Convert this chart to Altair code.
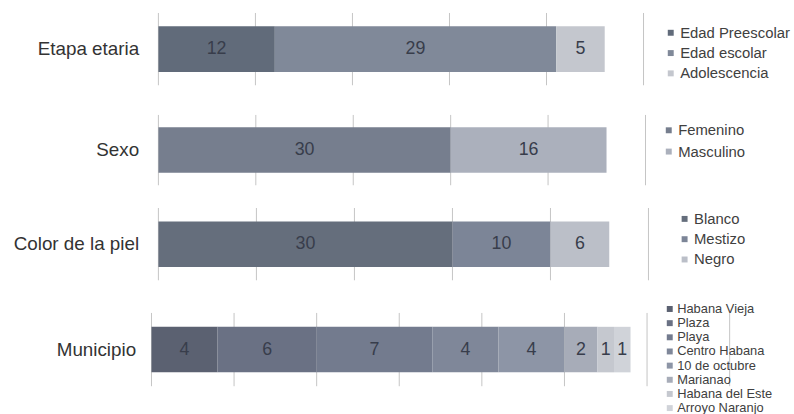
import altair as alt
import pandas as pd

# ---- data -------------------------------------------------------------
etapa_cats = ["Edad Preescolar", "Edad escolar", "Adolescencia"]
etapa_vals = [12, 29, 5]

sexo_cats = ["Femenino", "Masculino"]
sexo_vals = [30, 16]

piel_cats = ["Blanco", "Mestizo", "Negro"]
piel_vals = [30, 10, 6]

muni_cats = ["Habana Vieja", "Plaza", "Playa", "Centro Habana",
             "10 de octubre", "Marianao", "Habana del Este", "Arroyo Naranjo"]
muni_vals = [4, 6, 7, 4, 4, 2, 1, 1]

ticks_50 = [0, 10, 20, 30, 40, 50]
ticks_35 = [0, 5, 10, 15, 20, 25, 30, 35]

# ---- styles -----------------------------------------------------------
FONT = "Liberation Sans"
etapa_colors = ["#616b7a", "#808999", "#c4c7ce"]
sexo_colors = ["#767e8e", "#abb0bc"]
piel_colors = ["#656e7c", "#7c8597", "#bbbfc8"]
muni_colors = ["#5b6171", "#6a7184", "#737b8e", "#7f8799",
               "#8d95a6", "#a7acb8", "#c5c8cf", "#d0d3d9"]


def panel(name, cats, vals, colors, ticks, width, height, x_start, label_pad,
          leg_x, leg_y, leg_font, leg_row_pad, leg_offset):
    df = pd.DataFrame({
        "grupo": [name] * len(cats),
        "categoria": cats,
        "valor": vals,
        "orden": list(range(len(cats))),
    })
    tdf = pd.DataFrame({"t": ticks})
    xscale = alt.Scale(domain=[0, ticks[-1]], nice=False, zero=True,
                       range=[x_start, width])
    bar_h = 46
    pad_outer = (height / bar_h - 1) / 2
    yenc = alt.Y(
        "grupo:N", title=None,
        scale=alt.Scale(paddingInner=0, paddingOuter=pad_outer),
        axis=alt.Axis(ticks=False, domain=False, grid=False,
                      labelFontSize=19, labelColor="#333333", labelFont=FONT,
                      labelPadding=label_pad, minExtent=153,
                      maxExtent=153, labelLimit=300),
    )

    grid = alt.Chart(tdf).mark_rule(color="#c4c4c4", strokeWidth=1).encode(
        x=alt.X("t:Q", scale=xscale, axis=None)
    )

    base = alt.Chart(df).transform_stack(
        stack="valor", groupby=["grupo"], as_=["x0", "x1"],
        sort=[alt.SortField("orden", order="ascending")],
    ).transform_calculate(mid="(datum.x0 + datum.x1) / 2")

    bars = base.mark_bar().encode(
        x=alt.X("x0:Q", scale=xscale, axis=None),
        x2="x1:Q",
        y=yenc,
        color=alt.Color(
            "categoria:N",
            scale=alt.Scale(domain=cats, range=colors),
            legend=alt.Legend(
                orient="none", legendX=leg_x, legendY=leg_y, title=None,
                padding=0, symbolType="square", symbolSize=36,
                symbolStrokeWidth=0, labelOffset=leg_offset, labelFont=FONT,
                labelFontSize=leg_font, labelColor="#404040",
                rowPadding=leg_row_pad, labelLimit=300,
            ),
        ),
    )

    labels = base.mark_text(fontSize=18, font=FONT, color="#383d4b").encode(
        x=alt.X("mid:Q", scale=xscale, axis=None),
        y=yenc,
        text="valor:Q",
    )

    return alt.layer(grid, bars, labels).properties(width=width, height=height)


r1 = panel("Etapa etaria", etapa_cats, etapa_vals, etapa_colors, ticks_50,
           497, 73, 7, 13, 517, 12.5, 15, 4.5, 2)
r2 = panel("Sexo", sexo_cats, sexo_vals, sexo_colors, ticks_50,
           499, 71, 7, 13, 515, 8, 15, 5.5, 2)
r3 = panel("Color de la piel", piel_cats, piel_vals, piel_colors, ticks_50,
           502, 73, 7, 13, 531, 3.5, 15, 4.5, 2)
r4 = panel("Municipio", muni_cats, muni_vals, muni_colors, ticks_35,
           584, 74, 0, 16, 517, -10.5, 13, 0.3, 1)


def indep(c):
    return c.resolve_scale(x="independent", y="independent",
                           color="independent").resolve_legend(color="independent")


top = indep(alt.vconcat(r1, r2, spacing=28))
bottom = indep(alt.vconcat(r3, r4, spacing=21))

chart = indep(alt.vconcat(top, bottom, spacing=21)).properties(
    padding={"left": 0, "top": 10, "right": 4, "bottom": 0},
    background="white",
).configure(font=FONT).configure_view(stroke=None)

chart.save("out.html", embed_options={"renderer": "svg", "actions": False})
